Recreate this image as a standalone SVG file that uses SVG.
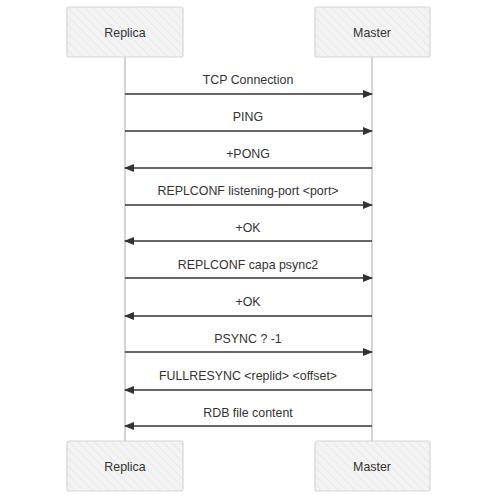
<svg xmlns="http://www.w3.org/2000/svg" width="498" height="500" viewBox="0 0 498 500">
<style>
.box{fill:url(#hatch);stroke:#d6d6d6;stroke-width:1.2}
.lbl{font-family:"Liberation Sans",Arial,sans-serif;font-size:12.4px;fill:#333;text-anchor:middle}
.life{stroke:#d4d4d4;stroke-width:2}
.msg{stroke:#333;stroke-width:1.3;fill:none}
</style>
<defs>
<pattern id="hatch" width="6" height="6" patternUnits="userSpaceOnUse" patternTransform="rotate(-45)">
<rect width="6" height="6" fill="#f3f3f3"/>
<line x1="0" y1="0" x2="0" y2="6" stroke="#e0e0e0" stroke-width="1"/>
</pattern>
<marker id="ah" markerWidth="10" markerHeight="8" refX="9" refY="4" orient="auto" markerUnits="userSpaceOnUse">
<path d="M0,0 L10,4 L0,8 Z" fill="#333"/>
</marker>
</defs>
<g id="lifelines">
<line class="life" x1="125" y1="57" x2="125" y2="441"/>
<line class="life" x1="372" y1="57" x2="372" y2="441"/>
</g>
<g id="replica-top"><rect class="box" x="67" y="7" width="116" height="50" rx="2"/><text class="lbl" x="125" y="37">Replica</text></g>
<g id="master-top"><rect class="box" x="315" y="7" width="115" height="50" rx="2"/><text class="lbl" x="372" y="37">Master</text></g>
<g id="replica-bottom"><rect class="box" x="67" y="441" width="116" height="50" rx="2"/><text class="lbl" x="125" y="471">Replica</text></g>
<g id="master-bottom"><rect class="box" x="315" y="441" width="115" height="50" rx="2"/><text class="lbl" x="372" y="471">Master</text></g>
<g id="connectors">
<line class="msg" x1="125" y1="94" x2="372" y2="94" stroke-width="2" marker-end="url(#ah)"/>
<line class="msg" x1="125" y1="131" x2="372" y2="131" marker-end="url(#ah)"/>
<line class="msg" x1="372" y1="168" x2="125" y2="168" marker-end="url(#ah)"/>
<line class="msg" x1="125" y1="205" x2="372" y2="205" marker-end="url(#ah)"/>
<line class="msg" x1="372" y1="241" x2="125" y2="241" marker-end="url(#ah)"/>
<line class="msg" x1="125" y1="278" x2="372" y2="278" marker-end="url(#ah)"/>
<line class="msg" x1="372" y1="316" x2="125" y2="316" marker-end="url(#ah)"/>
<line class="msg" x1="125" y1="352" x2="372" y2="352" marker-end="url(#ah)"/>
<line class="msg" x1="372" y1="390" x2="125" y2="390" marker-end="url(#ah)"/>
<line class="msg" x1="372" y1="426" x2="125" y2="426" stroke-width="2" marker-end="url(#ah)"/>
</g>
<g id="labels">
<text class="lbl" x="248" y="84">TCP Connection</text>
<text class="lbl" x="248" y="121">PING</text>
<text class="lbl" x="248" y="158">+PONG</text>
<text class="lbl" x="248" y="195">REPLCONF listening-port &lt;port&gt;</text>
<text class="lbl" x="248" y="232">+OK</text>
<text class="lbl" x="248" y="269">REPLCONF capa psync2</text>
<text class="lbl" x="248" y="306">+OK</text>
<text class="lbl" x="248" y="343">PSYNC ? -1</text>
<text class="lbl" x="248" y="380">FULLRESYNC &lt;replid&gt; &lt;offset&gt;</text>
<text class="lbl" x="248" y="417">RDB file content</text>
</g>
</svg>
